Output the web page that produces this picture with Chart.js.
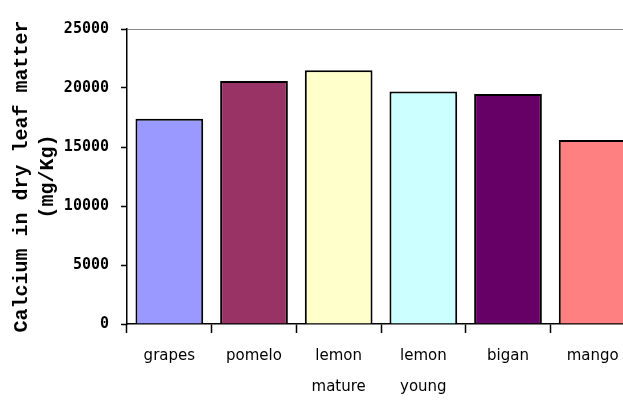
<!DOCTYPE html>
<html>
<head>
<meta charset="utf-8">
<script src="https://cdn.jsdelivr.net/npm/chart.js@4/dist/chart.umd.min.js"></script>
<style>
  html, body { margin: 0; padding: 0; background: #fff; overflow: hidden; }
  #wrap { width: 645px; height: 400px; }
</style>
</head>
<body>
<div id="wrap"><canvas id="c" width="645" height="400"></canvas></div>
<script>
// Calcium content in dry leaf matter, mg/Kg
const categories = ['grapes', 'pomelo', ['lemon', 'mature'], ['lemon', 'young'], 'bigan', 'mango'];
const calcium = [17400, 20600, 21500, 19700, 19500, 15600];
const barColors = ['#9999FF', '#993366', '#FFFFCC', '#CCFFFF', '#660066', '#FF8080'];
const yTicks = [0, 5000, 10000, 15000, 20000, 25000];
const yTitle = ['Calcium in dry leaf matter', '(mg/Kg)'];

new Chart(document.getElementById('c'), {
  type: 'bar',
  data: {
    labels: categories,
    datasets: [{
      data: calcium,
      backgroundColor: barColors,
      borderColor: '#000',
      borderWidth: 2,
      barPercentage: 0.8,
      categoryPercentage: 1.0
    }]
  },
  options: {
    responsive: false,
    animation: false,
    layout: { padding: { top: 29, right: 10, bottom: 0, left: 0 } },
    plugins: { legend: { display: false }, tooltip: { enabled: false } },
    scales: {
      x: {
        grid: { offset: true, color: 'transparent', tickColor: '#000', tickLength: 9, tickWidth: 1.5 },
        border: { color: '#000', width: 1.5 },
        ticks: {
          color: '#000',
          padding: 8,
          maxRotation: 0,
          autoSkip: false,
          font: { family: 'DejaVu Sans, sans-serif', size: 15, lineHeight: 2.07 }
        },
        afterFit(scale) { scale.height = 76; }
      },
      y: {
        min: yTicks[0],
        max: yTicks[yTicks.length - 1],
        afterBuildTicks(scale) { scale.ticks = yTicks.map(v => ({ value: v })); },
        grid: {
          color: ctx => (ctx.tick && ctx.tick.value === yTicks[yTicks.length - 1]) ? '#888' : 'transparent',
          tickColor: '#000',
          tickLength: 6,
          tickWidth: 1.5
        },
        border: { color: '#000', width: 1.5 },
        ticks: {
          color: '#000',
          padding: 12,
          callback: v => String(v),
          font: { family: 'DejaVu Sans Mono, monospace', size: 15, weight: 'bold' }
        },
        title: {
          display: true,
          text: yTitle,
          color: '#000',
          padding: { top: 9, bottom: 0 },
          font: { family: 'Liberation Mono, Courier New, monospace', size: 20, weight: 'bold', lineHeight: 1.3 }
        },
        afterFit(scale) { scale.width = 127; }
      }
    }
  }
});
</script>
</body>
</html>
